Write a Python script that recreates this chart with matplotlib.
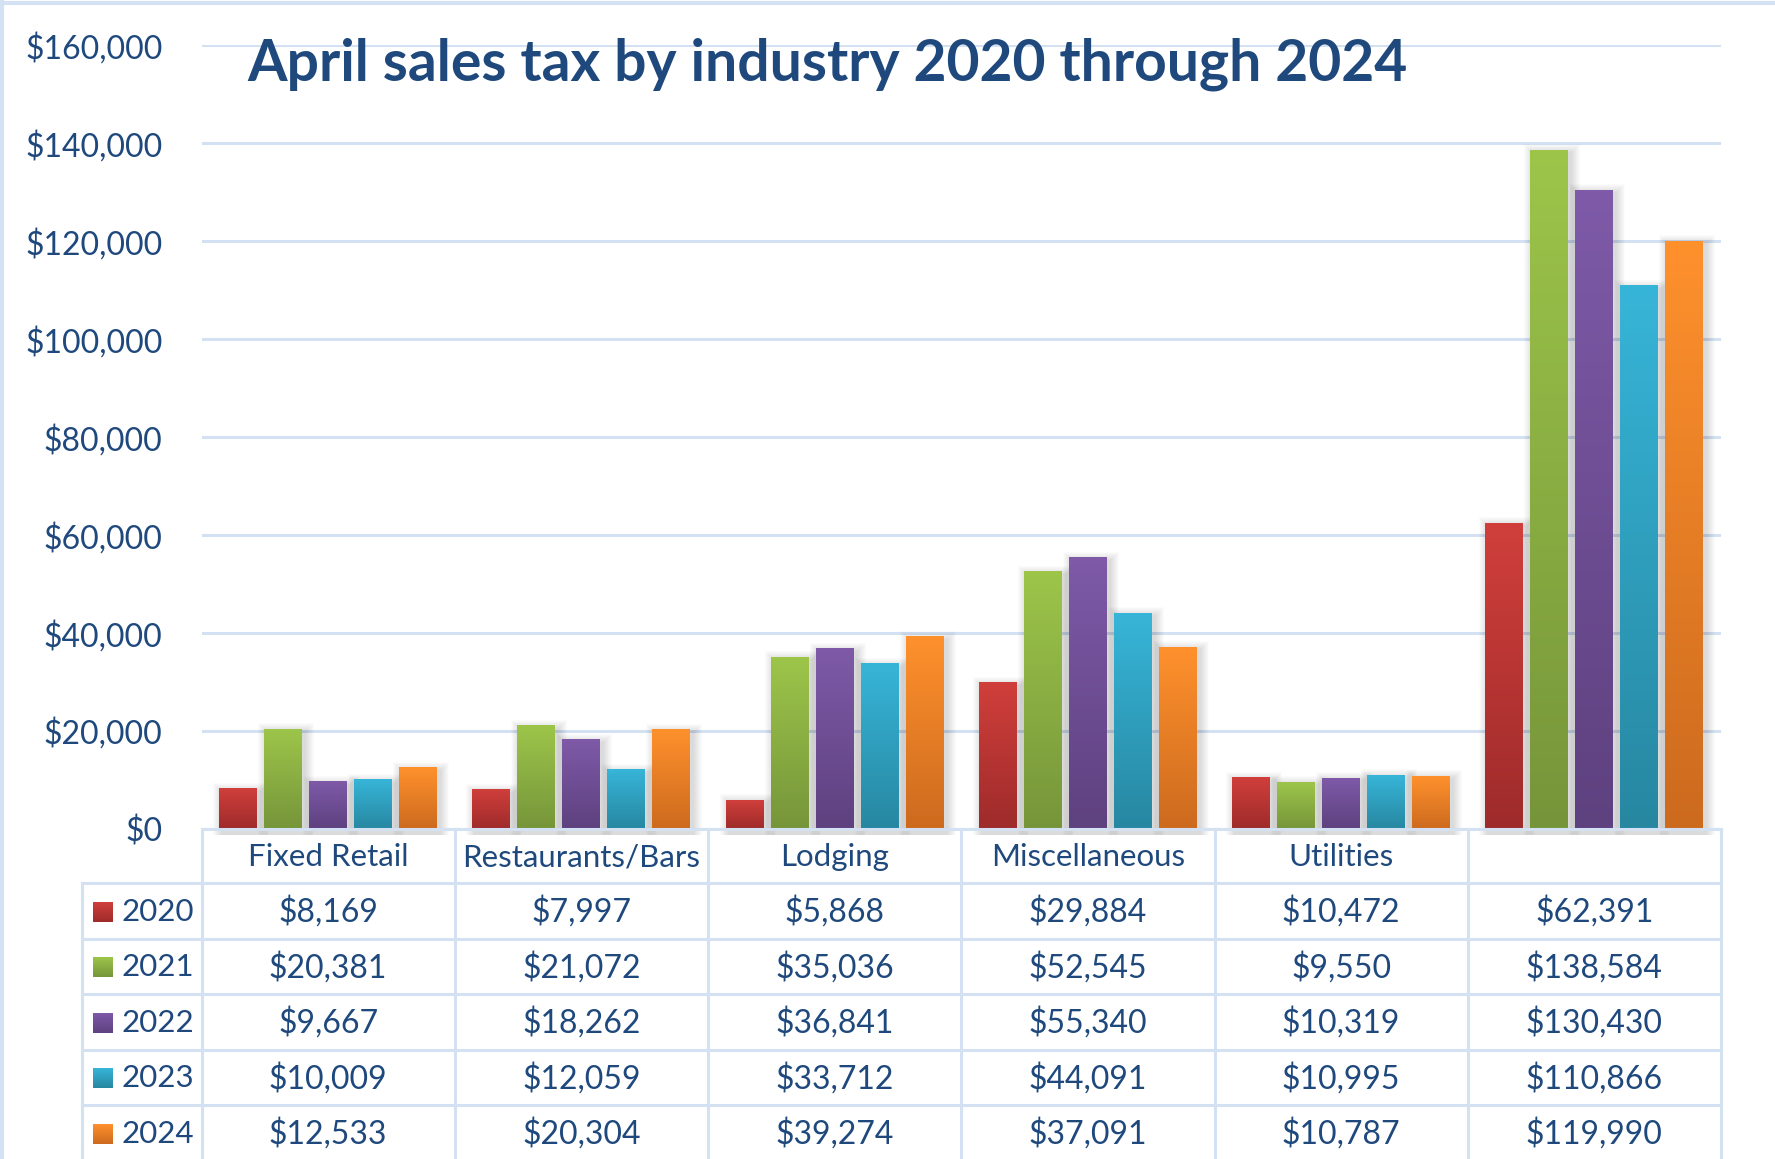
import numpy as np
import matplotlib.pyplot as plt
from matplotlib.colors import LinearSegmentedColormap
from matplotlib.patches import Rectangle

categories = ["Fixed Retail", "Restaurants/Bars", "Lodging", "Miscellaneous", "Utilities", ""]
years = ["2020", "2021", "2022", "2023", "2024"]

tax_2020 = [8169, 7997, 5868, 29884, 10472, 62391]
tax_2021 = [20381, 21072, 35036, 52545, 9550, 138584]
tax_2022 = [9667, 18262, 36841, 55340, 10319, 130430]
tax_2023 = [10009, 12059, 33712, 44091, 10995, 110866]
tax_2024 = [12533, 20304, 39274, 37091, 10787, 119990]
series = [tax_2020, tax_2021, tax_2022, tax_2023, tax_2024]

y_ticks = list(range(0, 160001, 20000))

# gradient ends for each year (top of bar, bottom of bar)
top_colors = ["#d03f3b", "#9dc54a", "#7e5aa8", "#37b5d8", "#ff912d"]
bottom_colors = ["#9e2b2b", "#76953a", "#5e417f", "#2787a1", "#cc6a1e"]

text_blue = "#1f497d"
line_blue = "#d3e1f2"

plt.rcParams['font.family'] = ['Lato', 'DejaVu Sans']

W, H = 1775, 1159
fig = plt.figure(figsize=(W / 100, H / 100), dpi=100)

# plot area in pixel coordinates
left, right, top, base = 201.5, 1721.0, 45.3, 829.0
ax = fig.add_axes([left / W, 1 - base / H, (right - left) / W, (base - top) / H])
ax.patch.set_visible(False)
ax.set_zorder(1)

x = np.arange(len(categories))
bar_w = 0.15
step = 0.1775
px = 1.0 / ((right - left) / len(categories))   # one pixel in x data units
py = 160000 / (base - top)                      # one pixel in y data units

grad = np.linspace(0, 1, 256).reshape(-1, 1)
for i, vals in enumerate(series):
    cmap = LinearSegmentedColormap.from_list("g" + years[i], [bottom_colors[i], top_colors[i]])
    bars = ax.bar(x + (i - 2) * step, vals, width=bar_w, color=top_colors[i], zorder=3)
    for b in bars:
        x0 = b.get_x()
        w = b.get_width()
        h = b.get_height()
        # soft drop shadow
        for k in range(1, 10):
            ax.add_patch(Rectangle((x0 + 3 * px - k * px, -6 * py), w + 2 * k * px, h + 3 * py + k * py,
                                   color="black", alpha=0.014, lw=0, zorder=2, clip_on=False))
        ax.imshow(grad, extent=(x0, x0 + w, 0, h), origin="lower", cmap=cmap,
                  aspect="auto", zorder=3.1, interpolation="bilinear")

ax.set_xlim(-0.5, len(categories) - 0.5)
ax.set_ylim(0, 160000)
ax.set_xticks([])
ax.set_yticks(y_ticks)
ax.set_yticklabels(["${:,}".format(v) for v in y_ticks])
ax.tick_params(axis="y", length=0, pad=28, labelsize=23, labelcolor=text_blue)
ax.yaxis.grid(True, color=line_blue, lw=2.2, zorder=0)
for s in ax.spines.values():
    s.set_visible(False)

# overlay in pixel units for title, data table and outer border
ov = fig.add_axes([0, 0, 1, 1])
ov.set_xlim(0, W)
ov.set_ylim(H, 0)
ov.axis("off")
ov.patch.set_visible(False)
ov.set_zorder(2)

ov.plot([0, W], [2.5, 2.5], color=line_blue, lw=3)
ov.plot([1.5, 1.5], [0, H], color=line_blue, lw=3)

ov.text(247, 64, "April sales tax by industry 2020 through 2024", fontsize=41,
        fontweight="bold", color=text_blue, ha="left", va="center")

col_w = (right - left) / len(categories)
col_edges = [left + k * col_w for k in range(len(categories) + 1)]
leg_left = 81.7
row_edges = [base, 883, 938.5, 994, 1049.5, 1105, 1160.5]

ov.plot([left, right], [base, base], color=line_blue, lw=2.2)
for y in row_edges[1:]:
    ov.plot([leg_left, right], [y, y], color=line_blue, lw=2.2)
for xe in col_edges:
    ov.plot([xe, xe], [base, H], color=line_blue, lw=2.2)
ov.plot([leg_left, leg_left], [row_edges[1], H], color=line_blue, lw=2.2)

for j, name in enumerate(categories):
    xc = (col_edges[j] + col_edges[j + 1]) / 2
    ov.text(xc, (row_edges[0] + row_edges[1]) / 2 + 1, name, fontsize=22.5,
            color=text_blue, ha="center", va="center")

sq = 20
for i, vals in enumerate(series):
    yc = (row_edges[i + 1] + row_edges[i + 2]) / 2 + 1
    cmap = LinearSegmentedColormap.from_list("k" + years[i], [bottom_colors[i], top_colors[i]])
    ov.imshow(grad, extent=(92.7, 92.7 + sq, yc + sq / 2, yc - sq / 2), origin="lower",
              cmap=cmap, aspect="auto", interpolation="bilinear")
    ov.text(121.5, yc, years[i], fontsize=22.5, color=text_blue, ha="left", va="center")
    for j, v in enumerate(vals):
        xc = (col_edges[j] + col_edges[j + 1]) / 2
        ov.text(xc, yc, "${:,}".format(v), fontsize=23, color=text_blue, ha="center", va="center")

ov.set_xlim(0, W)
ov.set_ylim(H, 0)

fig.savefig("out.png", dpi=100)
